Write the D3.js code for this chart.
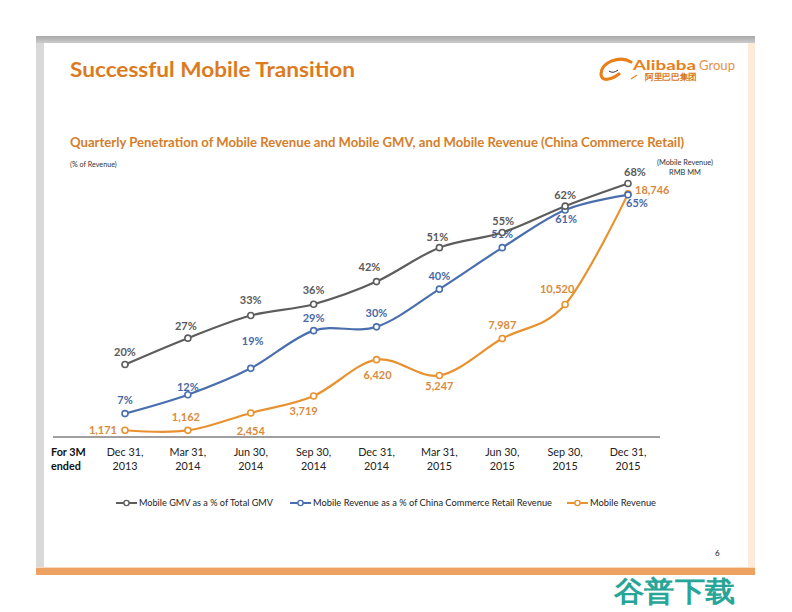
<!DOCTYPE html>
<html><head><meta charset="utf-8">
<script src="https://cdn.jsdelivr.net/npm/d3@7"></script>
<style>body{margin:0;background:#fff}svg{display:block}text{font-family:Lato,"Open Sans",sans-serif}</style>
</head><body>
<script>
// ---- data ----
const categories = ["Dec 31, 2013","Mar 31, 2014","Jun 30, 2014","Sep 30, 2014","Dec 31, 2014","Mar 31, 2015","Jun 30, 2015","Sep 30, 2015","Dec 31, 2015"];
const gmvPct = [20,27,33,36,42,51,55,62,68];
const revPct = [7,12,19,29,30,40,51,61,65];
const mobileRev = [1171,1162,2454,3719,6420,5247,7987,10520,18746];
const seriesNames = ["Mobile GMV as a % of Total GMV","Mobile Revenue as a % of China Commerce Retail Revenue","Mobile Revenue"];

// ---- label placement (style config) ----
const gmvLab = [[0,-9],[-2,-8],[0,-12],[0,-10],[-7,-11],[-2,-7],[1,-8],[0,-7],[7,-8]];
const revLab = [[0,-10],[0,-4],[2,-23],[0,-9],[0,-10],[0,-9],[0,-10],[1,13],[9,12]];
const monLab = [[-8,4,"end"],[-2,-9],[0,22],[-10,19],[1,19],[0,15],[0,-10],[-8,-12],[7,0,"start"]];

const W=792,H=612;
const svg=d3.select("body").append("svg").attr("width",W).attr("height",H);

// frame
const defs=svg.append("defs");
const g1=defs.append("linearGradient").attr("id","topg").attr("x1",0).attr("y1",0).attr("x2",0).attr("y2",1);
g1.append("stop").attr("offset",0).attr("stop-color","#a9a9a9");
g1.append("stop").attr("offset",1).attr("stop-color","#cbcbcb");
svg.append("rect").attr("x",36).attr("y",36).attr("width",8).attr("height",532).attr("fill","#d9d9d9");
svg.append("rect").attr("x",748).attr("y",36).attr("width",7).attr("height",532).attr("fill","#fcebdb");
svg.append("rect").attr("x",36).attr("y",36).attr("width",719).attr("height",7).attr("fill","url(#topg)");
svg.append("rect").attr("x",36).attr("y",568).attr("width",719).attr("height",7).attr("fill","#eda262");
svg.append("rect").attr("x",36).attr("y",567).attr("width",719).attr("height",1).attr("fill","#f8d9bb");

// title
svg.append("text").attr("x",70).attr("y",77).attr("font-size",20).attr("font-weight",700)
  .attr("fill","#dc7a20").attr("textLength",285).attr("lengthAdjust","spacingAndGlyphs").text("Successful Mobile Transition");
svg.append("text").attr("x",70).attr("y",147).attr("font-size",13).attr("font-weight",700)
  .attr("fill","#d47e2b").attr("textLength",614).attr("lengthAdjust","spacingAndGlyphs")
  .text("Quarterly Penetration of Mobile Revenue and Mobile GMV, and Mobile Revenue (China Commerce Retail)");

// logo
const logo=svg.append("g");
logo.append("path").attr("d","M631,62 C620,55 601,62 601,74 C601,82 611,80 619,74").attr("fill","none").attr("stroke","#e8801a").attr("stroke-width",3.2).attr("stroke-linecap","round");
logo.append("path").attr("d","M609,71 q4,3 9,-1").attr("fill","none").attr("stroke","#333").attr("stroke-width",1);
logo.append("path").attr("d","M631,79 l6,-4").attr("fill","none").attr("stroke","#e8801a").attr("stroke-width",1.2);
logo.append("text").attr("x",633).attr("y",70).attr("font-family","Liberation Sans, Arial").attr("font-size",14).attr("font-weight",700).attr("fill","#e8801a").attr("textLength",63).attr("lengthAdjust","spacingAndGlyphs").text("Alibaba");
logo.append("text").attr("x",699).attr("y",70).attr("font-family","Liberation Sans, Arial").attr("font-size",13).attr("fill","#e5914a").attr("textLength",36).attr("lengthAdjust","spacingAndGlyphs").text("Group");
logo.append("text").attr("x",645).attr("y",79.5).attr("font-family","Noto Sans CJK SC").attr("font-size",8.5).attr("font-weight",900).attr("fill","#d9761a").attr("textLength",52).attr("lengthAdjust","spacingAndGlyphs").text("阿里巴巴集团");

// small notes
svg.append("text").attr("x",70).attr("y",167).attr("font-size",7.2).attr("fill","#333").text("(% of Revenue)");
svg.append("text").attr("x",685).attr("y",165).attr("font-size",7.4).attr("fill","#333").attr("text-anchor","middle").text("(Mobile Revenue)");
svg.append("text").attr("x",685).attr("y",175).attr("font-size",7.4).attr("fill","#333").attr("text-anchor","middle").text("RMB MM");

// scales
const x=d3.scalePoint().domain(categories).range([125,628]);
const yPct=d3.scaleLinear().domain([0,70]).range([440,176]);
const yRev=d3.scaleLinear().domain([0,20000]).range([446,177]);

// axis baseline
svg.append("line").attr("x1",53).attr("x2",660).attr("y1",437).attr("y2",437).attr("stroke","#7f7f7f").attr("stroke-width",1.6);

// x labels
const xl=svg.append("g");
categories.forEach(c=>{
  const parts=c.split(" ");
  const l1=parts[0]+" "+parts[1], l2=parts[2];
  xl.append("text").attr("x",x(c)).attr("y",455.5).attr("text-anchor","middle").attr("font-size",10.8).attr("fill","#222").text(l1);
  xl.append("text").attr("x",x(c)).attr("y",469.5).attr("text-anchor","middle").attr("font-size",10.8).attr("fill","#222").text(l2);
});
xl.append("text").attr("x",51).attr("y",455.5).attr("font-size",10.8).attr("font-weight",700).attr("fill","#111").text("For 3M");
xl.append("text").attr("x",51).attr("y",469.5).attr("font-size",10.8).attr("font-weight",700).attr("fill","#111").text("ended");

const colors=["#5d5d5d","#4a6fae","#e8922f"];
const labColors=["#5a5a5a","#4868a6","#d98a3c"];
const curve=d3.curveCatmullRom.alpha(0);

function drawSeries(vals,y,color,labCol,labs,fmt){
  const pts=vals.map((v,i)=>[x(categories[i]),y(v)]);
  svg.append("path").attr("d",d3.line().curve(curve)(pts)).attr("fill","none").attr("stroke",color).attr("stroke-width",2.2);
  svg.append("g").selectAll("circle").data(pts).join("circle").attr("cx",d=>d[0]).attr("cy",d=>d[1]).attr("r",3)
    .attr("fill","#fff").attr("stroke",color).attr("stroke-width",1.6);
  svg.append("g").selectAll("text").data(vals).join("text")
    .attr("x",(d,i)=>pts[i][0]+labs[i][0]).attr("y",(d,i)=>pts[i][1]+labs[i][1])
    .attr("text-anchor",(d,i)=>labs[i][2]||"middle").attr("font-size",11).attr("font-weight",700).attr("fill",labCol)
    .text(fmt);
}
drawSeries(mobileRev,yRev,colors[2],labColors[2],monLab,d=>d3.format(",")(d));
drawSeries(revPct,yPct,colors[1],labColors[1],revLab,d=>d+"%");
drawSeries(gmvPct,yPct,colors[0],labColors[0],gmvLab,d=>d+"%");

// legend
const legX=[116,290,567], legW=[134,239,66];
seriesNames.forEach((n,i)=>{
  const g=svg.append("g");
  g.append("line").attr("x1",legX[i]).attr("x2",legX[i]+21).attr("y1",503).attr("y2",503).attr("stroke",colors[i]).attr("stroke-width",2);
  g.append("circle").attr("cx",legX[i]+10.5).attr("cy",503).attr("r",2.6).attr("fill","#fff").attr("stroke",colors[i]).attr("stroke-width",1.4);
  g.append("text").attr("x",legX[i]+23).attr("y",506).attr("font-size",9).attr("fill","#222")
    .attr("textLength",legW[i]).attr("lengthAdjust","spacingAndGlyphs").text(n);
});

// page number
svg.append("text").attr("x",715).attr("y",556).attr("font-size",8).attr("fill","#111").text("6");

// watermark
svg.append("text").attr("x",614).attr("y",601).attr("font-family","Noto Sans CJK SC").attr("font-size",28).attr("font-weight",900)
  .attr("fill","#27a598").attr("textLength",121).attr("lengthAdjust","spacingAndGlyphs").text("谷普下载");
</script>
</body></html>
